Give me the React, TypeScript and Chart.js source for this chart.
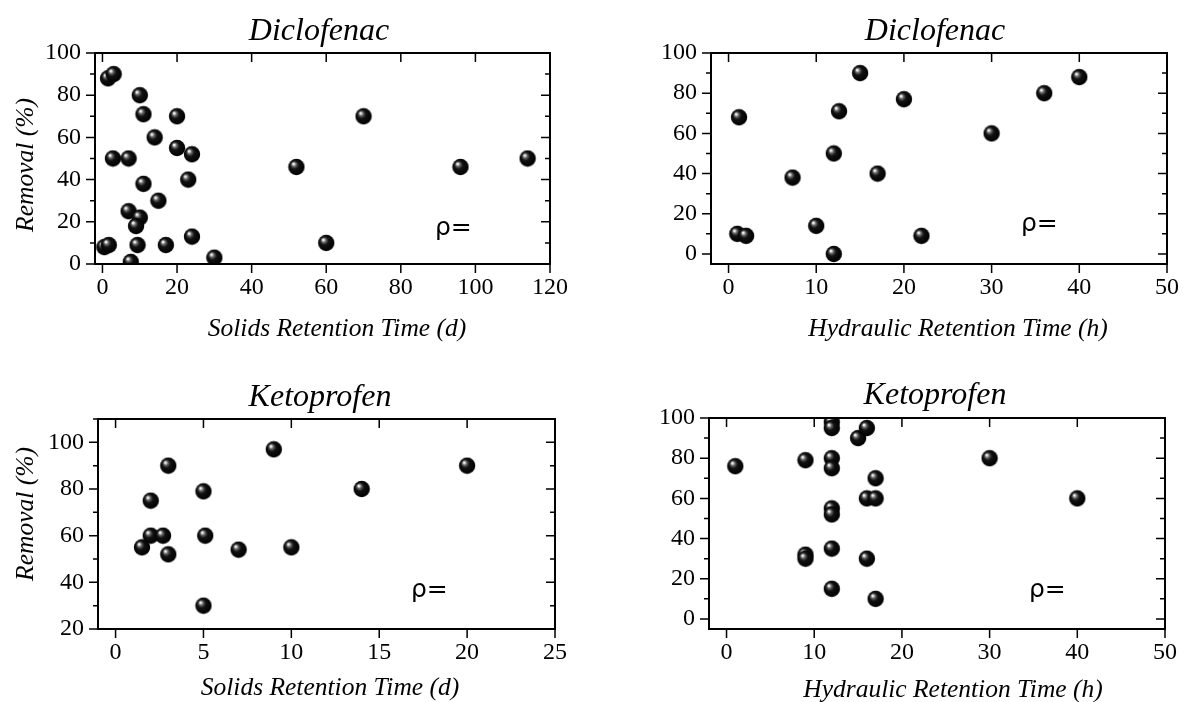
import React, { useEffect, useRef } from "react";
import { Chart, registerables } from "chart.js";

Chart.register(...registerables);

// ---------- data ----------
const panelTitles = ["Diclofenac", "Diclofenac", "Ketoprofen", "Ketoprofen"];
const xAxisTitles = [
  "Solids Retention Time (d)",
  "Hydraulic Retention Time (h)",
  "Solids Retention Time (d)",
  "Hydraulic Retention Time (h)",
];
const yAxisTitle = "Removal (%)";
const rhoLabel = "ρ=";

// Diclofenac vs SRT (d)
const dicloSrtX = [1.5, 3, 10, 11, 20, 14, 2.8, 7, 20, 24, 11, 23, 15, 7, 10, 9, 0.5, 1.7, 9.4, 17, 24, 7.6, 30, 52, 70, 60, 96, 114];
const dicloSrtY = [88, 90, 80, 71, 70, 60, 50, 50, 55, 52, 38, 40, 30, 25, 22, 18, 8, 9, 9, 9, 13, 1, 3, 46, 70, 10, 46, 50];

// Diclofenac vs HRT (h)
const dicloHrtX = [1.2, 1, 2, 7.3, 10, 12, 12, 12.6, 15, 17, 20, 22, 30, 36, 40];
const dicloHrtY = [68, 10, 9, 38, 14, 0, 50, 71, 90, 40, 77, 9, 60, 80, 88];

// Ketoprofen vs SRT (d)
const ketoSrtX = [1.5, 2, 2, 2.7, 3, 3, 5, 5.1, 5, 7, 9, 10, 14, 20];
const ketoSrtY = [55, 75, 60, 60, 90, 52, 79, 60, 30, 54, 97, 55, 80, 90];

// Ketoprofen vs HRT (h)
const ketoHrtX = [1, 9, 9, 9, 12, 12, 15, 16, 12, 12, 17, 16, 17, 12, 12, 12, 16, 12, 17, 30, 40];
const ketoHrtY = [76, 79, 32, 30, 98, 95, 90, 95, 80, 75, 70, 60, 60, 55, 52, 35, 30, 15, 10, 80, 60];

// ticks
const srtDicloXTicks = [0, 20, 40, 60, 80, 100, 120];
const hrtXTicks = [0, 10, 20, 30, 40, 50];
const srtKetoXTicks = [0, 5, 10, 15, 20, 25];
const removalTicks = [0, 20, 40, 60, 80, 100];
const removalMinorTicks = [10, 30, 50, 70, 90];
const ketoSrtYTicks = [20, 40, 60, 80, 100];
const ketoSrtYMinorTicks = [30, 50, 70, 90, 110];

// ---------- layout (page coordinates) ----------
const PAD_L = 95;
const PAD_T = 53;
const PAD_R = 30;
const PAD_B = 80;
const MAJOR = 9;
const MINOR = 5;

type PanelCfg = {
  area: [number, number, number, number];
  xMin: number; xMax: number; yMin: number; yMax: number;
  xs: number[]; ys: number[];
  xTicks: number[]; yTicks: number[]; yMinor: number[];
  title: string; titleX: number; titleY: number;
  xTitle: string; xTitleX: number; xTitleY: number;
  yTitle: string | null; yTitleX: number; yTitleY: number;
  rhoX: number; rhoY: number;
};

const panels: PanelCfg[] = [
  {
    area: [95, 53, 550, 264], xMin: -2, xMax: 120, yMin: 0, yMax: 100,
    xs: dicloSrtX, ys: dicloSrtY, xTicks: srtDicloXTicks, yTicks: removalTicks, yMinor: removalMinorTicks,
    title: panelTitles[0], titleX: 319, titleY: 40,
    xTitle: xAxisTitles[0], xTitleX: 337, xTitleY: 336,
    yTitle: yAxisTitle, yTitleX: 33, yTitleY: 165,
    rhoX: 435, rhoY: 235,
  },
  {
    area: [711, 53, 1167, 264], xMin: -2, xMax: 50, yMin: -5, yMax: 100,
    xs: dicloHrtX, ys: dicloHrtY, xTicks: hrtXTicks, yTicks: removalTicks, yMinor: removalMinorTicks,
    title: panelTitles[1], titleX: 935, titleY: 40,
    xTitle: xAxisTitles[1], xTitleX: 958, xTitleY: 336,
    yTitle: null, yTitleX: 0, yTitleY: 0,
    rhoX: 1021, rhoY: 231,
  },
  {
    area: [98, 419, 555, 629], xMin: -1, xMax: 25, yMin: 20, yMax: 110,
    xs: ketoSrtX, ys: ketoSrtY, xTicks: srtKetoXTicks, yTicks: ketoSrtYTicks, yMinor: ketoSrtYMinorTicks,
    title: panelTitles[2], titleX: 320, titleY: 406,
    xTitle: xAxisTitles[2], xTitleX: 330, xTitleY: 695,
    yTitle: yAxisTitle, yTitleX: 33, yTitleY: 514,
    rhoX: 411, rhoY: 597,
  },
  {
    area: [709, 418, 1165, 629], xMin: -2, xMax: 50, yMin: -5, yMax: 100,
    xs: ketoHrtX, ys: ketoHrtY, xTicks: hrtXTicks, yTicks: removalTicks, yMinor: removalMinorTicks,
    title: panelTitles[3], titleX: 935, titleY: 404,
    xTitle: xAxisTitles[3], xTitleX: 953, xTitleY: 697,
    yTitle: null, yTitleX: 0, yTitleY: 0,
    rhoX: 1029, rhoY: 597,
  },
];

const SERIF = '"Liberation Serif", "Times New Roman", serif';

function makeSphere(): HTMLCanvasElement {
  const size = 18;
  const c = document.createElement("canvas");
  c.width = size;
  c.height = size;
  const ctx = c.getContext("2d")!;
  const cx = size / 2;
  const r = 8.2;
  const g = ctx.createRadialGradient(cx - 3.2, cx - 3.4, 0, cx - 0.5, cx - 0.5, r + 0.5);
  g.addColorStop(0, "#ffffff");
  g.addColorStop(0.1, "#e8e8e8");
  g.addColorStop(0.26, "#666666");
  g.addColorStop(0.48, "#121212");
  g.addColorStop(1, "#000000");
  ctx.beginPath();
  ctx.arc(cx, cx, r, 0, Math.PI * 2);
  ctx.fillStyle = g;
  ctx.fill();
  return c;
}

const decorPlugin = {
  id: "decor",
  afterDatasetsDraw(chart: any) {
    const o = chart.options.plugins.decor;
    const { ctx, chartArea: a, scales } = chart;
    const xs = scales.x;
    const ys = scales.y;
    ctx.save();
    ctx.strokeStyle = "#000";
    ctx.lineWidth = 1.5;
    ctx.beginPath();
    o.xTicks.forEach((v: number) => {
      const p = xs.getPixelForValue(v);
      ctx.moveTo(p, a.bottom);
      ctx.lineTo(p, a.bottom + MAJOR);
      ctx.moveTo(p, a.top);
      ctx.lineTo(p, a.top + MAJOR);
    });
    o.yTicks.forEach((v: number) => {
      const p = ys.getPixelForValue(v);
      ctx.moveTo(a.left - MAJOR, p);
      ctx.lineTo(a.left, p);
      ctx.moveTo(a.right, p);
      ctx.lineTo(a.right - MAJOR, p);
    });
    o.yMinor.forEach((v: number) => {
      const p = ys.getPixelForValue(v);
      ctx.moveTo(a.left - MINOR, p);
      ctx.lineTo(a.left, p);
      ctx.moveTo(a.right, p);
      ctx.lineTo(a.right - MINOR, p);
    });
    ctx.stroke();
    ctx.lineWidth = 2;
    ctx.strokeRect(a.left, a.top, a.right - a.left, a.bottom - a.top);

    const ox = o.originX;
    const oy = o.originY;
    ctx.fillStyle = "#000";
    ctx.textBaseline = "alphabetic";
    ctx.textAlign = "center";
    ctx.font = `italic 32px ${SERIF}`;
    ctx.fillText(o.title, o.titleX - ox, o.titleY - oy);
    ctx.font = `italic 25.5px ${SERIF}`;
    ctx.fillText(o.xTitle, o.xTitleX - ox, o.xTitleY - oy);
    if (o.yTitle) {
      ctx.save();
      ctx.translate(o.yTitleX - ox, o.yTitleY - oy);
      ctx.rotate(-Math.PI / 2);
      ctx.fillText(o.yTitle, 0, 0);
      ctx.restore();
    }
    ctx.textAlign = "left";
    ctx.font = '25px "DejaVu Sans", sans-serif';
    ctx.fillText(rhoLabel, o.rhoX - ox, o.rhoY - oy);
    ctx.restore();
  },
};

function Panel({ cfg }: { cfg: PanelCfg }) {
  const ref = useRef<HTMLCanvasElement>(null);
  const [L, T, R, B] = cfg.area;
  const left = L - PAD_L;
  const top = T - PAD_T;
  const width = R - L + PAD_L + PAD_R;
  const height = B - T + PAD_T + PAD_B;

  useEffect(() => {
    const sphere = makeSphere();
    const tickFont = { family: SERIF, size: 24 };
    const chart = new Chart(ref.current!, {
      type: "scatter",
      data: {
        datasets: [
          {
            data: cfg.xs.map((x, i) => ({ x, y: cfg.ys[i] })),
            pointStyle: sphere as any,
            pointRadius: 8,
            clip: 0 as any,
            showLine: false,
          },
        ],
      },
      options: {
        responsive: false,
        animation: false,
        devicePixelRatio: 1,
        events: [],
        layout: { padding: { left: 0, top: PAD_T, right: PAD_R, bottom: 0 } },
        plugins: {
          legend: { display: false },
          tooltip: { enabled: false },
          title: { display: false },
          decor: {
            ...cfg,
            originX: left,
            originY: top,
          },
        } as any,
        scales: {
          x: {
            type: "linear",
            min: cfg.xMin,
            max: cfg.xMax,
            grid: { display: false, drawTicks: false },
            border: { display: false },
            ticks: { font: tickFont, color: "#000", padding: 9, autoSkip: false, maxRotation: 0 },
            afterBuildTicks: (s: any) => {
              s.ticks = cfg.xTicks.map((v) => ({ value: v }));
            },
            afterFit: (s: any) => {
              s.height = PAD_B;
            },
          },
          y: {
            type: "linear",
            min: cfg.yMin,
            max: cfg.yMax,
            grid: { display: false, drawTicks: false },
            border: { display: false },
            ticks: { font: tickFont, color: "#000", padding: 14, autoSkip: false },
            afterBuildTicks: (s: any) => {
              s.ticks = cfg.yTicks.map((v) => ({ value: v }));
            },
            afterFit: (s: any) => {
              s.width = PAD_L;
            },
          },
        },
      },
      plugins: [decorPlugin],
    });
    return () => chart.destroy();
  }, []);

  return (
    <canvas
      ref={ref}
      width={width}
      height={height}
      style={{ position: "absolute", left, top, width, height, display: "block" }}
    />
  );
}

export default function App() {
  return (
    <div
      style={{
        position: "fixed",
        left: 0,
        top: 0,
        width: 1186,
        height: 702,
        overflow: "hidden",
        background: "#fff",
      }}
    >
      {panels.map((p, i) => (
        <Panel key={i} cfg={p} />
      ))}
    </div>
  );
}
